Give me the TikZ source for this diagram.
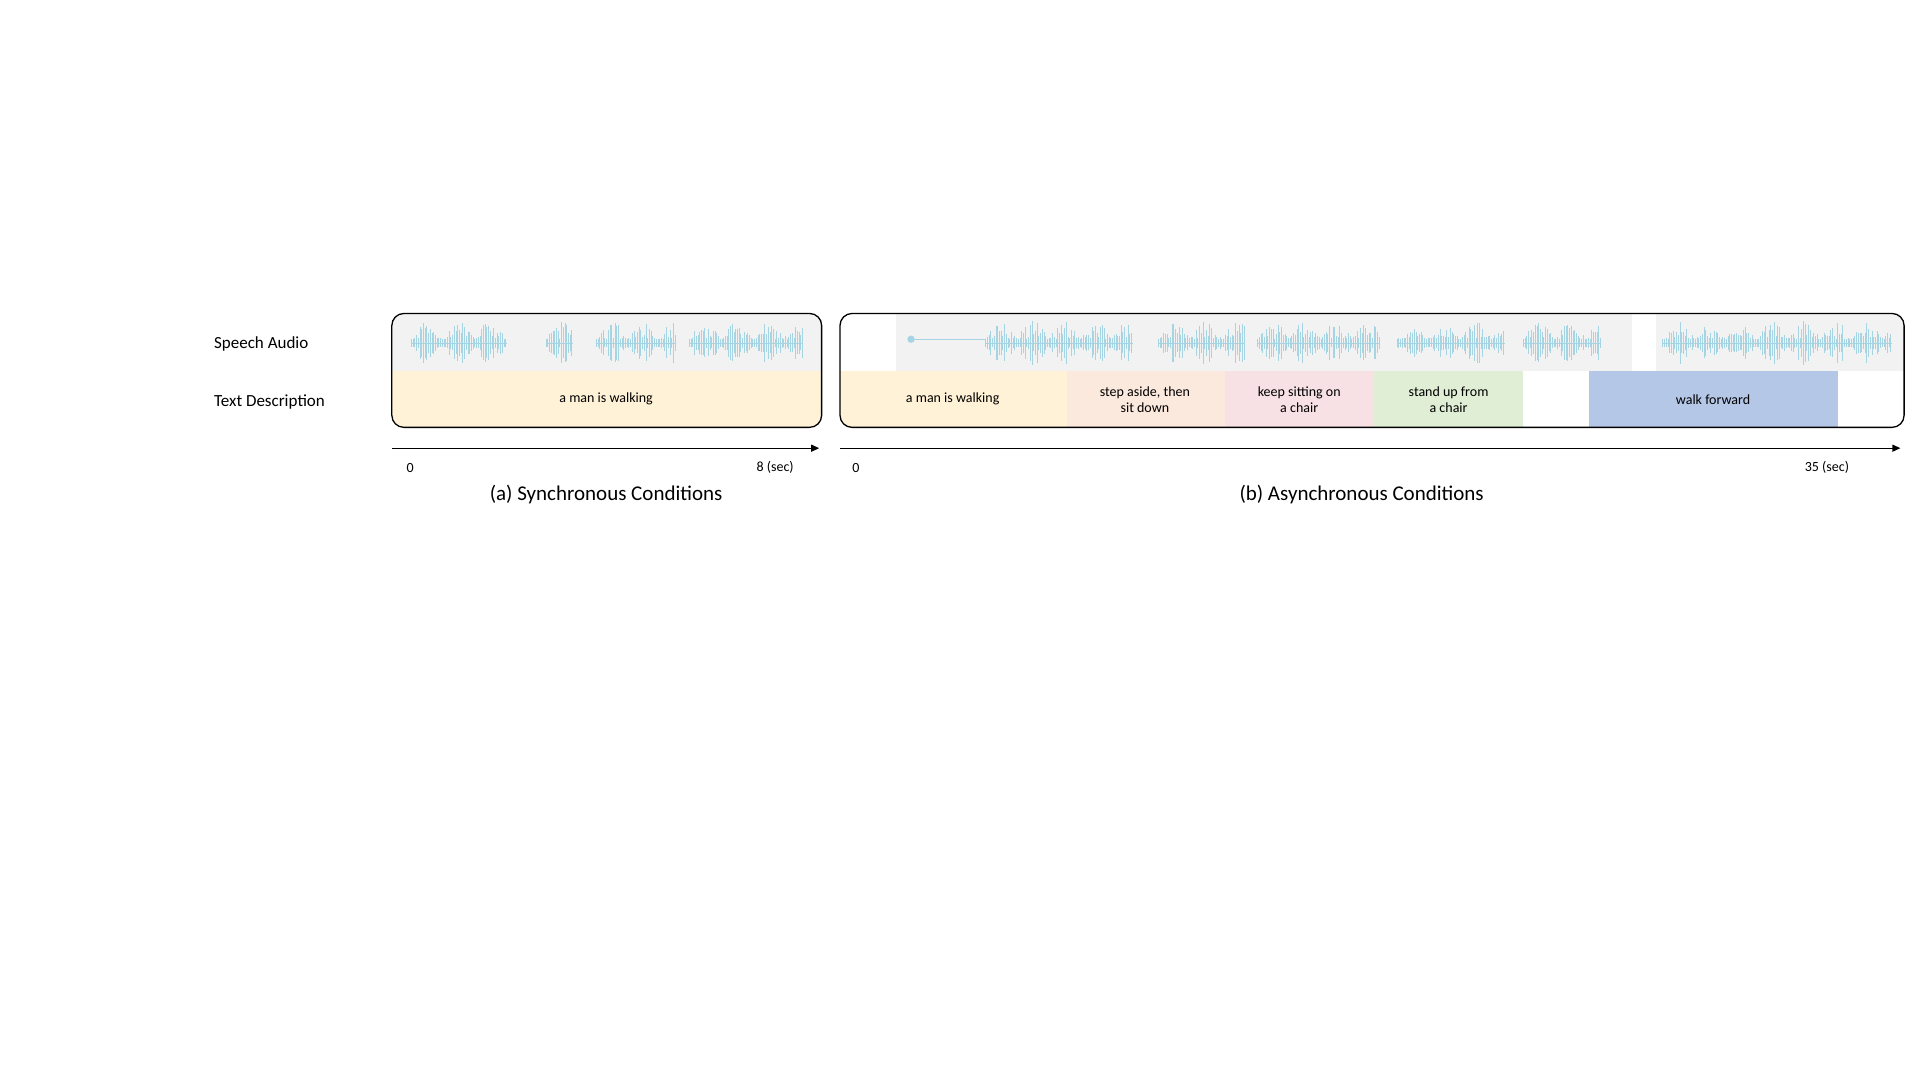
\documentclass[tikz,border=0pt]{standalone}
\usepackage{fontspec}
\setmainfont{Carlito}
\usetikzlibrary{arrows.meta,positioning}
\definecolor{wavegrey}{RGB}{242,242,242}
\definecolor{wavecol}{RGB}{166,212,226}
\definecolor{cyellow}{RGB}{255,242,214}
\definecolor{cpeach}{RGB}{251,233,222}
\definecolor{cpink}{RGB}{248,225,229}
\definecolor{cgreen}{RGB}{223,238,212}
\definecolor{cblue}{RGB}{180,199,231}
\newcommand{\wavepart}[2]{%
  \draw[wavecol,line width=0.6pt] (#1,280) -- (#2,280);
  \pgfmathsetmacro{\wnext}{#1+1.4}
  \foreach \wx in {#1,\wnext,...,#2}{
    \pgfmathsetmacro{\wh}{3+15*rnd*abs(sin(7*(\wx-#1)))}
    \draw[wavecol,line width=0.9pt] (\wx,280-\wh) -- (\wx,280+\wh);
  }}
\begin{document}
\begin{tikzpicture}[x=1.2245pt,y=-1.2245pt]
 \tikzset{row label/.style={font=\fontsize{17}{20}\selectfont, anchor=west}, }
 \tikzset{seg text/.style={font=\fontsize{14}{16}\selectfont, align=center, text=black}, }
 \tikzset{tick label/.style={font=\fontsize{14}{16}\selectfont}, }
 \tikzset{caption/.style={font=\fontsize{21}{24}\selectfont}, }
 \tikzset{frame/.style={draw=black, line width=1.3pt, rounded corners=12}, }
 \tikzset{timeline/.style={line width=1.2pt, -{Triangle[length=8pt,width=7pt]}}, }
 \pgfmathsetseed{7}
 \useasboundingbox (0,0) rectangle (1568,882);
 \node[row label] (speech) at (172,281) {Speech Audio};
 \node[row label] (textdesc) at (172,328) {Text Description};
 % (a) synchronous
 \begin{scope}
  \clip[rounded corners=12] (320,256) rectangle (671,349);
  \fill[wavegrey] (320,256) rectangle (671,303);
  \fill[cyellow] (320,303) rectangle (671,349);
 \end{scope}
 \wavepart{336}{414}
 \wavepart{446}{468}
 \wavepart{487}{552}
 \wavepart{563}{656}
 \draw[frame] (320,256) rectangle (671,349);
 \node[seg text] (walkA) at (495,326) {a man is walking};
 \coordinate (startA) at (320,366);
 \coordinate (endA) at (669,366);
 \draw[timeline] (startA) -- (endA);
 \node[tick label] (zeroA) at (335,382) {0};
 \node[tick label] (eightA) at (633,382) {8 (sec)};
 \node[caption] (capA) at (495,404) {(a) Synchronous Conditions};
 % (b) asynchronous
 \begin{scope}
  \clip[rounded corners=12] (686,256) rectangle (1555,349);
  \fill[wavegrey] (732,256) rectangle (1333,303);
  \fill[wavegrey] (1352,256) rectangle (1555,303);
  \fill[cyellow] (686,303) rectangle (871,349);
  \fill[cpeach] (871,303) rectangle (1000,349);
  \fill[cpink] (1000,303) rectangle (1122,349);
  \fill[cgreen] (1122,303) rectangle (1244,349);
  \fill[cblue] (1298,303) rectangle (1501,349);
 \end{scope}
 \draw[wavecol,line width=0.6pt] (744,277) -- (805,277);
 \fill[wavecol] (744,277) circle (3);
 \wavepart{805}{925}
 \wavepart{946}{1017}
 \wavepart{1027}{1127}
 \wavepart{1141}{1229}
 \wavepart{1244}{1307}
 \wavepart{1358}{1545}
 \draw[frame] (686,256) rectangle (1555,349);
 \node[seg text] (walkB) at (778,326) {a man is walking};
 \node[seg text] (step) at (935,326) {step aside, then\\sit down};
 \node[seg text] (sit) at (1061,326) {keep sitting on\\a chair};
 \node[seg text] (stand) at (1183,326) {stand up from\\a chair};
 \node[seg text] (forward) at (1399,326) {walk forward};
 \coordinate (startB) at (686,366);
 \coordinate (endB) at (1552,366);
 \draw[timeline] (startB) -- (endB);
 \node[tick label] (zeroB) at (699,382) {0};
 \node[tick label] (thirtyB) at (1492,382) {35 (sec)};
 \node[caption] (capB) at (1112,404) {(b) Asynchronous Conditions};
\end{tikzpicture}
\end{document}
